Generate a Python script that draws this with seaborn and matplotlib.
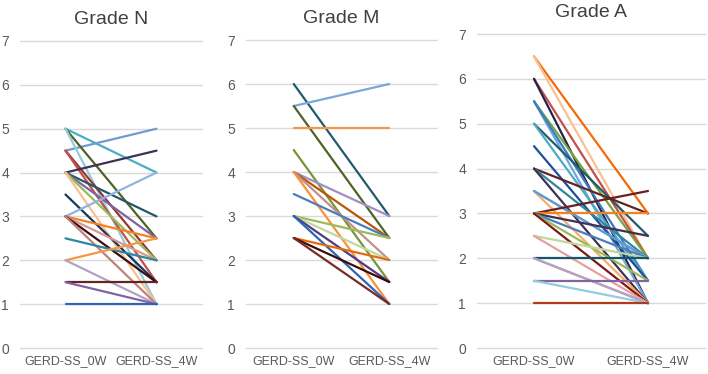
import pandas as pd
import matplotlib
matplotlib.use('Agg')
import matplotlib.pyplot as plt
import seaborn as sns

# Paired GERD-SS scores, before (0W) and after (4W)
timepoints = ['GERD-SS_0W', 'GERD-SS_4W']
grades = ['Grade N', 'Grade M', 'Grade A']

n_0w = [5, 4.5, 5, 5, 4.5, 4.5, 4, 4, 4, 4, 4, 3.5, 3, 3, 3, 3, 3, 2.5, 2, 2, 1.5, 1.5, 1]
n_4w = [4, 5, 2.5, 1, 2, 1.5, 4.5, 3, 2.5, 2, 1, 1.5, 4, 2.5, 2, 1.5, 1, 2, 2.5, 1, 1.5, 1, 1]

m_0w = [6, 5.5, 5.5, 5, 4.5, 4, 4, 4, 4, 3.5, 3, 3, 3, 3, 2.5, 2.5, 2.5]
m_4w = [3, 6, 2.5, 5, 1.5, 3, 2.5, 2, 1, 2.5, 2.5, 2, 1.5, 1, 2, 1.5, 1]

a_0w = [6.5, 6.5, 6, 6, 5.5, 5.5, 5.5, 5, 5, 4.5, 4, 4, 4, 3.5, 3.5, 3.5,
        3, 3, 3, 3, 3, 3, 2.5, 2.5, 2, 2, 2, 1.5, 1.5, 1]
a_4w = [3, 2, 2, 1, 2, 1, 1.5, 2.5, 1.5, 1.5, 3, 2, 1, 2, 1, 2,
        3.5, 3, 2.5, 2, 1.5, 1, 2, 1, 2, 1, 1, 1.5, 1, 1]

n_colors = ['#4BACC6', '#729ACA', '#4F6228', '#93CDDD', '#953735', '#C0504D',
            '#3F3151', '#215968', '#8064A2', '#9BBB59', '#FAC090', '#17375E',
            '#8EB4E3', '#F58220', '#D99694', '#3D0C0C', '#C0807C', '#31859C',
            '#F79646', '#B3A2C7', '#632523', '#8064A2', '#2E64B4']
m_colors = ['#1F5C6E', '#7BA7DA', '#4F6228', '#F79646', '#77933C', '#A48DC0',
            '#B65708', '#C0908E', '#F7913A', '#4A7EBB', '#9BBB59', '#C3D69B',
            '#4D3B8A', '#2E64B4', '#E46C0A', '#3D0C0C', '#772C2A']
a_colors = ['#F56A0A', '#FAC090', '#C0504D', '#2A1F4A', '#77A33C', '#6FA8DC',
            '#3A7CC0', '#1F5C6E', '#4BACC6', '#1F4E9A', '#632523', '#31859C',
            '#3F3151', '#95B3D7', '#F9AB6B', '#5B9BD5', '#6B1E1E', '#F58220',
            '#3F3151', '#4A7EBB', '#9BBB59', '#7B1A14', '#C3D69B', '#E6A0A0',
            '#17556A', '#D99694', '#B3A2C7', '#8064A2', '#93CDDD', '#B03A1A']


def long_form(before, after):
    k = len(before)
    return pd.DataFrame({
        'subject': list(range(k)) * 2,
        'time': [0] * k + [1] * k,
        'score': list(before) + list(after),
    })


panels = [(n_0w, n_4w, n_colors), (m_0w, m_4w, m_colors), (a_0w, a_4w, a_colors)]
rects = [
    [20 / 708, 26 / 374, 182 / 708, 307 / 374],
    [246 / 708, 26 / 374, 191 / 708, 308 / 374],
    [477 / 708, 26 / 374, 228 / 708, 314 / 374],
]

sns.set_style('white')
plt.rcParams['font.family'] = ['Liberation Sans', 'DejaVu Sans']

fig = plt.figure(figsize=(7.08, 3.74), dpi=100)
grey = '#595959'

for (before, after, colors), rect, title in zip(panels, rects, grades):
    ax = fig.add_axes(rect)
    df = long_form(before, after)
    sns.lineplot(data=df, x='time', y='score', hue='subject',
                 palette=colors, legend=False, linewidth=1.6, ax=ax,
                 estimator=None, sort=False)
    ax.set_xlim(-0.5, 1.5)
    ax.set_ylim(0, 7)
    ax.set_xticks([0, 1])
    ax.set_xticklabels(timepoints)
    ax.set_yticks(range(8))
    ax.tick_params(axis='both', length=0, colors=grey)
    ax.tick_params(axis='x', labelsize=9, pad=5)
    ax.tick_params(axis='y', labelsize=10, pad=8)
    ax.set_xlabel('')
    ax.set_ylabel('')
    ax.yaxis.grid(True, color='#d9d9d9', linewidth=1)
    ax.set_axisbelow(True)
    for gl in ax.get_ygridlines():
        gl.set_clip_on(False)
    for s in ax.spines.values():
        s.set_visible(False)
    ax.set_title(title, fontsize=14, color='#404040', pad=12)

fig.savefig('out.png', dpi=100)
